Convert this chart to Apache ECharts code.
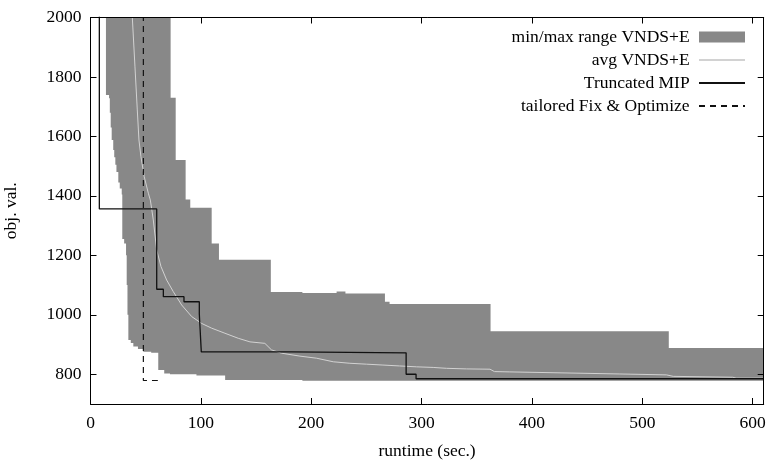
<!DOCTYPE html>
<html><head><meta charset="utf-8">
<script src="https://cdn.jsdelivr.net/npm/echarts@6/dist/echarts.min.js"></script>
<style>html,body{margin:0;padding:0;background:#fff}#c{width:772px;height:468px}</style>
</head><body><div id="c"></div>
<script>
// ---- data ----
const xTickValues = [0, 100, 200, 300, 400, 500, 600];
const yTickValues = [800, 1000, 1200, 1400, 1600, 1800, 2000];

const bandTime = [14, 16.8, 17.5, 18.3, 19.2, 20.6, 21.5, 22.5, 23.5, 25.2, 26.5, 28.3, 28.8, 30.5, 32.2, 32.8, 33.5, 34.3, 36.5, 38.8, 43, 47.8, 55, 61.4, 66.8, 72, 72.6, 77.2, 86.2, 90.4, 96, 109.8, 116.4, 122, 163.4, 192, 223, 231, 266.8, 271, 362.5, 524, 610];
const bandMin  = [1739, 1728, 1680, 1630, 1588, 1554, 1530, 1505, 1480, 1445, 1425, 1405, 1255, 1240, 1200, 1100, 1000, 915, 905, 893, 885, 876, 872, 814, 803, 800, 800, 800, 800, 800, 796, 796, 796, 781, 781, 778, 778, 778, 778, 778, 778, 778, 778];
const bandMax  = [2000, 2000, 2000, 2000, 2000, 2000, 2000, 2000, 2000, 2000, 2000, 2000, 2000, 2000, 2000, 2000, 2000, 2000, 2000, 2000, 2000, 2000, 2000, 2000, 2000, 2000, 1730, 1521, 1388, 1360, 1360, 1240, 1185, 1185, 1077, 1073, 1078, 1072, 1044, 1036, 945, 888, 888];

const avgTime  = [37.4, 37.9, 40.3, 42.4, 43.9, 45.7, 48.7, 52.4, 54.2, 55.4, 56.9, 60, 63.9, 69, 75, 82.6, 91.7, 100.7, 109.8, 121.8, 133.9, 144.5, 158, 164, 173, 189.8, 204.9, 220, 235, 250, 265, 280, 295.5, 310.5, 322.6, 340.8, 362, 366, 380, 479.6, 521.9, 528, 582, 585, 610];
const avgValue = [2035, 2000, 1834, 1689, 1588, 1532, 1464, 1409, 1386, 1358, 1319, 1218, 1162, 1117, 1078, 1033, 994, 971, 955, 938, 921, 909, 904, 882, 871, 861, 854, 842, 837, 834, 831, 828, 825, 823, 820, 818, 817, 809, 808, 801, 798, 793, 790, 787, 787];

const mipTime  = [8, 8, 60, 66, 84.7, 98.6, 100.4, 182, 286, 295, 610];
const mipValue = [2600, 1356, 1086, 1061, 1044, 1003, 875, 872, 800, 785, 785];

const fixOptTime  = [47.9, 47.9, 61];
const fixOptValue = [2600, 779, 779];

// ---- chart ----
const FONT = 'Liberation Serif';
const FS = 17.5;
const zip = (a, b) => a.map((t, i) => [t, b[i]]);
const chart = echarts.init(document.getElementById('c'), null, {renderer: 'canvas'});

function xAx(pos, show) {
  return {
    type: 'value', position: pos, min: 0, max: 610, z: 10,
    axisLine: {show: true, onZero: false, lineStyle: {color: '#000', width: 1}},
    axisTick: {show: true, inside: true, length: 6, customValues: xTickValues, lineStyle: {color: '#000'}},
    axisLabel: {show: show, customValues: xTickValues, margin: 10, color: '#000', fontFamily: FONT, fontSize: FS, formatter: v => String(v)},
    splitLine: {show: false},
    name: show ? 'runtime (sec.)' : '', nameLocation: 'middle', nameGap: 38,
    nameTextStyle: {color: '#000', fontFamily: FONT, fontSize: FS}
  };
}
function yAx(pos, show) {
  return {
    type: 'value', position: pos, min: 700, max: 2000, z: 10,
    axisLine: {show: true, onZero: false, lineStyle: {color: '#000', width: 1}},
    axisTick: {show: true, inside: true, length: 6, customValues: yTickValues, lineStyle: {color: '#000'}},
    axisLabel: {show: show, customValues: yTickValues, margin: 9, color: '#000', fontFamily: FONT, fontSize: FS, formatter: v => String(v)},
    splitLine: {show: false},
    name: show ? 'obj. val.' : '', nameLocation: 'middle', nameGap: 70,
    nameTextStyle: {color: '#000', fontFamily: FONT, fontSize: FS}
  };
}

// band polygon (step-wise min/max envelope) built through the cartesian coordinate system
function renderBand(params, api) {
  if (params.dataIndex !== 0) return null;
  const pts = [];
  const n = bandTime.length;
  for (let i = 0; i < n - 1; i++) {
    pts.push(api.coord([bandTime[i], bandMax[i]]));
    pts.push(api.coord([bandTime[i + 1], bandMax[i]]));
  }
  for (let i = n - 2; i >= 0; i--) {
    pts.push(api.coord([bandTime[i + 1], bandMin[i]]));
    pts.push(api.coord([bandTime[i], bandMin[i]]));
  }
  return {type: 'polygon', shape: {points: pts}, style: {fill: '#888888', stroke: null}};
}

chart.setOption({
  animation: false,
  backgroundColor: '#fff',
  grid: {left: 90.5, right: 8.3, top: 17.5, bottom: 64, containLabel: false, outerBoundsMode: 'none'},
  xAxis: [xAx('bottom', true), xAx('top', false)],
  yAxis: [yAx('left', true), yAx('right', false)],
  legend: {
    orient: 'vertical', right: 21, top: 23, align: 'right',
    itemWidth: 46, itemHeight: 11, itemGap: 5,
    formatter: n => n + ' ',
    textStyle: {color: '#000', fontFamily: FONT, fontSize: FS},
    data: [
      {name: 'min/max range VNDS+E', icon: 'rect', itemStyle: {color: '#888888', borderWidth: 0}},
      {name: 'avg VNDS+E', itemStyle: {opacity: 0}},
      {name: 'Truncated MIP', itemStyle: {opacity: 0}},
      {name: 'tailored Fix & Optimize', itemStyle: {opacity: 0}}
    ]
  },
  series: [
    {
      name: 'min/max range VNDS+E', type: 'custom', coordinateSystem: 'cartesian2d', clip: true,
      data: bandTime.map((t, i) => [t, bandMin[i], bandMax[i]]),
      encode: {x: 0, y: [1, 2]},
      itemStyle: {color: '#888888'},
      renderItem: renderBand
    },
    {
      name: 'avg VNDS+E', type: 'line', symbol: 'none',
      data: zip(avgTime, avgValue), color: '#d2d2d2',
      lineStyle: {width: 1, color: '#d2d2d2'}
    },
    {
      name: 'Truncated MIP', type: 'line', step: 'end', symbol: 'none',
      data: zip(mipTime, mipValue), color: '#111',
      lineStyle: {width: 1.3, color: '#111'}
    },
    {
      name: 'tailored Fix & Optimize', type: 'line', symbol: 'none',
      data: zip(fixOptTime, fixOptValue), color: '#111',
      lineStyle: {width: 1.2, color: '#111', type: [6, 5]}
    }
  ]
});
</script></body></html>
